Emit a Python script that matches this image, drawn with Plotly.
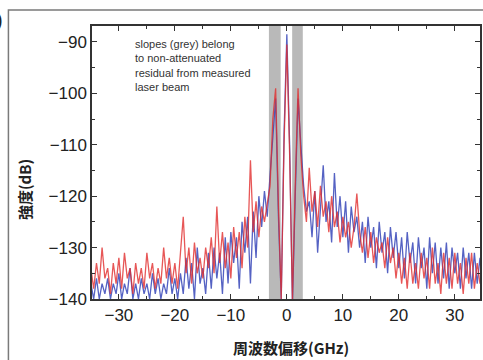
import numpy as np
import plotly.graph_objects as go

# frequency grid (GHz)
freq = np.arange(-35.0, 35.01, 0.5)

# intensity (dB)
red_db = [
    -134, -138, -133, -137, -130, -136, -134, -139, -133, -137,
    -132, -138, -131, -136, -134, -139, -133, -137, -134, -138,
    -131, -136, -133, -138, -134, -137, -130, -136, -132, -137,
    -133, -138, -131, -124, -135, -130, -137, -129, -135, -132,
    -136, -130, -134, -128, -135, -122, -133, -127, -134, -129,
    -136, -126, -132, -127, -134, -124, -130, -113, -127, -121,
    -128, -122, -125, -121, -118, -105, -99, -122, -140, -110,
    -90.5, -112, -140, -118, -99, -112, -120, -125, -114.5, -123,
    -119, -126, -118, -124, -121, -127, -120, -126, -123, -129,
    -124, -128, -125, -130, -126, -119.5, -127, -131, -126, -132,
    -127, -133, -128, -131, -129, -134, -128, -133, -130, -136,
    -131, -137, -132, -138, -131, -137, -133, -138, -131, -136,
    -132, -138, -130, -137, -133, -139, -131, -137, -132, -138,
    -131, -137, -133, -139, -132, -137, -131, -138, -133, -137,
    -134,
]
blue_db = [
    -137, -140, -136, -140, -137, -139, -136, -140, -137, -139,
    -135, -140, -137, -139, -134, -140, -137, -140, -136, -139,
    -137, -140, -135, -139, -136, -140, -137, -139, -134, -139,
    -136, -140, -135, -139, -132, -138, -133, -140, -130, -137,
    -134, -139, -131, -138, -130, -136, -131, -139, -128, -137,
    -127, -133, -128, -138, -125, -131, -124, -137, -123, -132,
    -120, -126, -119, -124, -116, -108, -101, -124, -140, -108,
    -88.5, -110, -141, -120, -101, -110, -118, -123, -121, -128,
    -119, -131, -122, -114, -125, -121, -129, -115.5, -126, -120,
    -128, -121, -131, -122, -127, -124, -130, -125, -133, -124,
    -130, -126, -134, -125, -131, -127, -135, -126, -132, -127,
    -134, -128, -136, -127, -133, -129, -137, -128, -134, -130,
    -138, -128, -135, -129, -137, -130, -136, -129, -138, -130,
    -135, -131, -138, -130, -136, -131, -138, -131, -137, -132,
    -139,
]

x_ticks = [-30, -20, -10, 0, 10, 20, 30]
y_ticks = [-140, -130, -120, -110, -100, -90]
grey_bands = [(-3.2, -1.1), (0.95, 2.85)]

fig = go.Figure()
fig.add_trace(go.Scatter(x=freq, y=blue_db, mode="lines",
                         line=dict(color="rgba(55,70,185,0.85)", width=1.3),
                         showlegend=False))
fig.add_trace(go.Scatter(x=freq, y=red_db, mode="lines",
                         line=dict(color="rgba(225,45,45,0.8)", width=1.3),
                         showlegend=False))

shapes = []
for x0, x1 in grey_bands:
    shapes.append(dict(type="rect", xref="x", yref="paper", x0=x0, x1=x1, y0=0, y1=1,
                       fillcolor="#b9b9b9", line=dict(width=0), layer="below"))
# outer frame
shapes.append(dict(type="rect", xref="paper", yref="paper", x0=-0.2154, x1=1.05,
                   y0=-0.4, y1=1.0586, line=dict(color="#7a7a7a", width=1.5),
                   fillcolor="rgba(0,0,0,0)"))

axis_common = dict(showline=True, linecolor="#333", linewidth=1.5, mirror="allticks",
                   ticks="inside", ticklen=5, tickwidth=1.2, tickcolor="#333",
                   showgrid=False, zeroline=False,
                   tickfont=dict(family="Liberation Sans, Arial", size=17, color="#222"))

fig.update_layout(
    width=483, height=360,
    margin=dict(l=92, r=1, t=26, b=61),
    paper_bgcolor="white", plot_bgcolor="white",
    shapes=shapes,
    xaxis=dict(range=[-34.8, 34.5], tickvals=x_ticks,
               minor=dict(dtick=5, ticks="inside", ticklen=3, tickcolor="#333"),
               **axis_common),
    yaxis=dict(range=[-140, -86.9], tickvals=y_ticks,
               minor=dict(dtick=5, ticks="inside", ticklen=3, tickcolor="#333"),
               **axis_common),
    annotations=[
        dict(text="slopes (grey) belong<br>to non-attenuated<br>residual from measured<br>laser beam",
             xref="paper", yref="paper", x=0.105, y=0.965, xanchor="left", yanchor="top",
             align="left", showarrow=False,
             font=dict(family="Liberation Sans, Arial", size=11, color="#333")),
        dict(text="<b>周波数偏移(GHz)</b>", xref="paper", yref="paper", x=0.513, y=-0.176,
             xanchor="center", yanchor="middle", showarrow=False,
             font=dict(family="Noto Sans CJK JP", size=15, color="#222")),
        dict(text="<b>強度(dB)</b>", xref="paper", yref="paper", x=-0.172, y=0.40,
             xanchor="center", yanchor="middle", textangle=-90, showarrow=False,
             font=dict(family="Noto Sans CJK JP", size=15, color="#222")),
        dict(text=")", xref="paper", yref="paper", x=-0.223, y=1.022,
             xanchor="right", yanchor="middle", showarrow=False,
             font=dict(family="Liberation Sans, Arial", size=20, color="#222")),
    ],
)

fig.write_html("out.html", config={"displayModeBar": False},
               post_script="document.body.style.margin='0';document.body.style.overflow='hidden';")
